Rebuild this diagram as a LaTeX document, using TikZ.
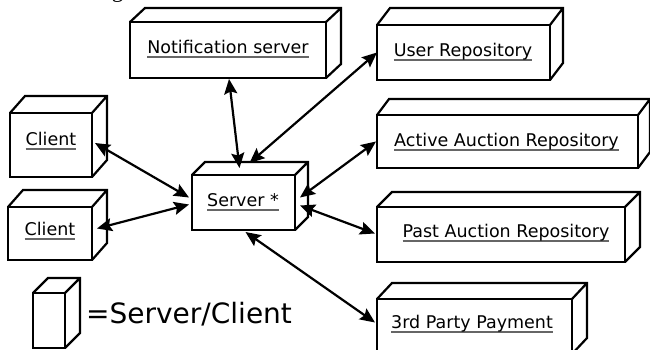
\documentclass[tikz,border=0pt]{standalone}
\usepackage{fontspec}
\setmainfont{DejaVu Sans}
\newfontfamily\capfont{Liberation Serif}
\usetikzlibrary{arrows.meta,calc}
\newcommand\myul[1]{\setbox0\hbox{#1}\rlap{\color{black!60}\rule[-4.5pt]{\wd0}{1.7pt}}\box0}
\newcommand\cubeside[2]{%
  \draw[boxline] (#1.north west) -- ++(#2) -- ($(#1.north east)+(#2)$) -- ($(#1.south east)+(#2)$) -- (#1.south east)
    (#1.north east) -- ++(#2);}
\tikzset{
  boxline/.style={line width=2.2pt, line join=miter},
  front/.style={boxline, draw, fill=white, inner sep=0pt, outer sep=0pt, rectangle},
  lbl/.style={font=\fontsize{17.5}{20}\selectfont, inner sep=0pt},
  dbl/.style={line width=2.2pt, {Stealth[length=15pt,width=13pt,inset=2.5pt]}-{Stealth[length=15pt,width=13pt,inset=2.5pt]}},
}
\begin{document}
\begin{tikzpicture}[x=1pt,y=-1pt]
\useasboundingbox (0,0) rectangle (650,350);
\fill[white] (0,0) rectangle (650,350);
% clipped caption fragment at the very top
\node[anchor=base west, inner sep=0pt, font=\capfont\fontsize{23}{26}\selectfont] (cap) at (7,-2) {below in Fig. 3.};
% boxes (front faces)
\node[front, minimum width=82pt, minimum height=64pt] (cl1) at (51,145) {};
\node[front, minimum width=84pt, minimum height=53pt] (cl2) at (50,233.5) {};
\node[front, minimum width=196pt, minimum height=56pt] (notif) at (228,50) {};
\node[front, minimum width=103pt, minimum height=55pt] (srv) at (243.5,202.5) {};
\node[front, minimum width=173pt, minimum height=55pt] (user) at (463.5,52.5) {};
\node[front, minimum width=261pt, minimum height=53pt] (act) at (507.5,141.5) {};
\node[front, minimum width=248pt, minimum height=55pt] (past) at (501,234.5) {};
\node[front, minimum width=195pt, minimum height=55pt] (third) at (474.5,326.5) {};
\node[front, minimum width=32pt, minimum height=55pt] (leg) at (49,320.5) {};
% depth faces
\cubeside{cl1}{15,-17}
\cubeside{cl2}{15,-17}
\cubeside{notif}{15,-14}
\cubeside{srv}{13,-13}
\cubeside{user}{13,-17}
\cubeside{act}{12,-16}
\cubeside{past}{15,-15}
\cubeside{third}{15,-16}
\cubeside{leg}{15,-15}
% labels
\node[lbl] (cl1t) at (51,141) {\myul{Client}};
\node[lbl] (cl2t) at (50,231) {\myul{Client}};
\node[lbl] (notift) at (228,49) {\myul{Notification server}};
\node[lbl] (srvt) at (243,202) {\myul{Server *}};
\node[lbl] (usert) at (463,52) {\myul{User Repository}};
\node[lbl] (actt) at (506.5,142) {\myul{Active Auction Repository}};
\node[lbl] (pastt) at (506,233) {\myul{Past Auction Repository}};
\node[lbl] (thirdt) at (472,324) {\myul{3rd Party Payment}};
\node[anchor=base west, inner sep=0pt, font=\fontsize{28}{32}\selectfont] (legt) at (86,323) {=Server/Client};
% connectors
\draw[dbl] ($(cl1.east)+(3,-2)$) -- ($(srv.west)+(-3,-5)$);
\draw[dbl] ($(cl2.east)+(5,-5)$) -- ($(srv.west)+(-3,2)$);
\draw[dbl] ($(notif.south)+(1,1)$) -- ($(srv.north)+(-4,-7)$);
\draw[dbl] ($(user.west)+(0,0)$) -- ($(srv.north)+(6,-12)$);
\draw[dbl] ($(act.west)+(-1,0)$) -- ($(srv.east)+(5,-5)$);
\draw[dbl] ($(past.west)+(-2,-1)$) -- ($(srv.east)+(5,3)$);
\draw[dbl] ($(third.west)+(-2,-4)$) -- ($(srv.south)+(2,2)$);
\end{tikzpicture}
\end{document}
